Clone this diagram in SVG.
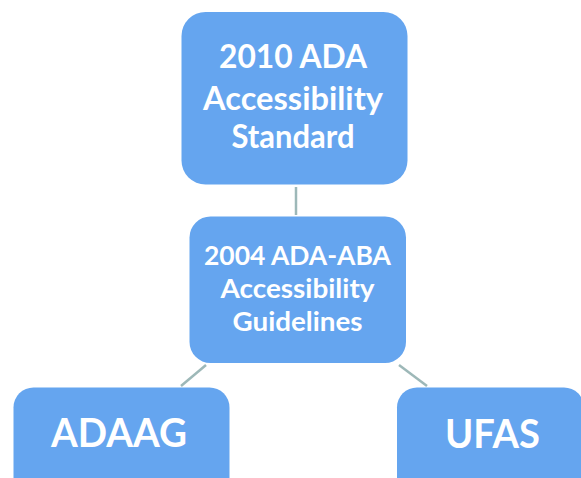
<svg xmlns="http://www.w3.org/2000/svg" width="581" height="478" viewBox="0 0 581 478">
<style>
.box{fill:#65A5EF;}
.t{font-family:Lato,"Open Sans","Liberation Sans",sans-serif;font-weight:bold;fill:#ffffff;text-anchor:middle;}
.c{stroke:#9DB8B8;stroke-width:2.5;fill:none;}
</style>
<rect width="581" height="478" fill="#ffffff"/>
<g id="connectors">
<line class="c" x1="296" y1="187" x2="296" y2="215"/>
<line class="c" x1="206" y1="365" x2="181" y2="386"/>
<line class="c" x1="399" y1="365" x2="427" y2="386"/>
</g>
<g id="node-2010">
<rect class="box" x="181.5" y="12" width="226" height="172.5" rx="24"/>
<text class="t" font-size="33" x="293" y="68" textLength="148" lengthAdjust="spacingAndGlyphs">2010 ADA</text>
<text class="t" font-size="33" x="293" y="110" textLength="180" lengthAdjust="spacingAndGlyphs">Accessibility</text>
<text class="t" font-size="33" x="293" y="147.5" textLength="123" lengthAdjust="spacingAndGlyphs">Standard</text>
</g>
<g id="node-2004">
<rect class="box" x="189.5" y="216.5" width="216.5" height="146.5" rx="21"/>
<text class="t" font-size="27" x="297.5" y="265" textLength="187" lengthAdjust="spacingAndGlyphs">2004 ADA-ABA</text>
<text class="t" font-size="27" x="297.5" y="298" textLength="154" lengthAdjust="spacingAndGlyphs">Accessibility</text>
<text class="t" font-size="27" x="297.5" y="331" textLength="130" lengthAdjust="spacingAndGlyphs">Guidelines</text>
</g>
<g id="node-adaag">
<rect class="box" x="13.5" y="387.5" width="216" height="110" rx="20"/>
<text class="t" font-size="40" x="119" y="446.5" textLength="136" lengthAdjust="spacingAndGlyphs">ADAAG</text>
</g>
<g id="node-ufas">
<rect class="box" x="397" y="387.5" width="187" height="110" rx="20"/>
<text class="t" font-size="40" x="492.5" y="448" textLength="95" lengthAdjust="spacingAndGlyphs">UFAS</text>
</g>
</svg>
